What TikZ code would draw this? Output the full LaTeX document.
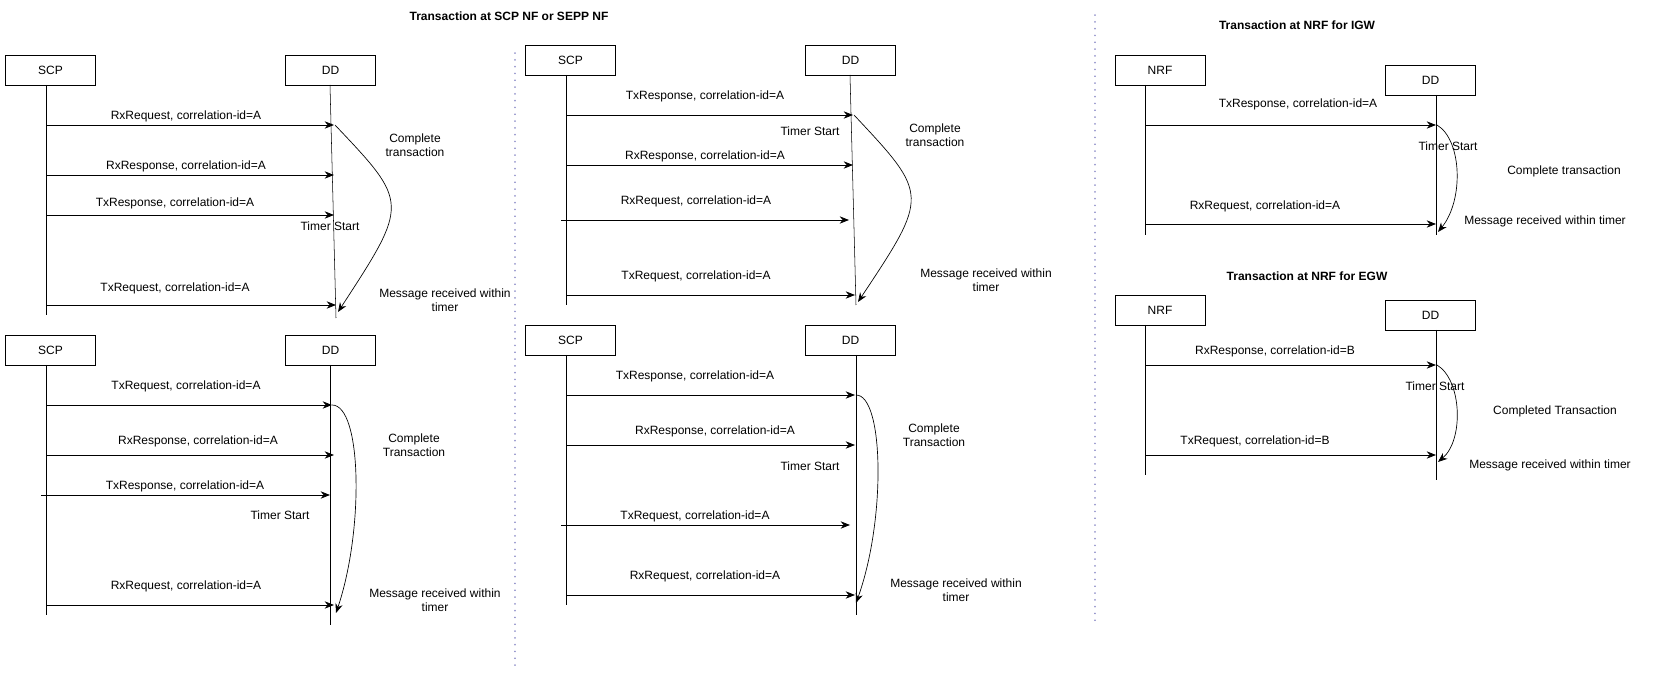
\documentclass[tikz,border=0pt]{standalone}
\usepackage{fontspec}
\setmainfont{Liberation Sans}
\usetikzlibrary{arrows.meta}

\begin{document}
\begin{tikzpicture}[x=0.75pt, y=-0.75pt,
    every node/.style={font=\fontsize{9}{10.5}\selectfont, align=center},
    box/.style={draw, minimum width=67.5pt, minimum height=22.5pt, inner sep=0pt},
    title/.style={font=\fontsize{9}{10.5}\selectfont\bfseries},
    msg/.style={-{Stealth[length=7pt,width=5.5pt]}, line width=0.6pt},
    loop/.style={-{Stealth[length=7pt,width=5.5pt]}, line width=0.5pt},
    sep/.style={draw=blue!35!gray!60, line width=1.3pt, dash pattern=on 0.1pt off 5pt, line cap=round}]
    \useasboundingbox (0,0) rectangle (1661,673);

    % separators and titles
    \coordinate (s1t) at (515,53);   \coordinate (s1b) at (515,666);
    \coordinate (s2t) at (1095,15);  \coordinate (s2b) at (1095,625);
    \draw[sep] (s1t) -- (s1b);
    \draw[sep] (s2t) -- (s2b);
    \node[title] (tscp) at (509,16) {Transaction at SCP NF or SEPP NF};
    \node[title] (tigw) at (1297,25) {Transaction at NRF for IGW};
    \node[title] (tegw) at (1307,276) {Transaction at NRF for EGW};

    % panel A
    \node[box] (scpA) at (50.5,70) {SCP};
    \node[box] (ddA) at (330.5,70) {DD};
    \coordinate (scpAt) at (46,85);  \coordinate (scpAb) at (46,315);
    \coordinate (ddAt) at (330,85);  \coordinate (ddAb) at (336,318);
    \draw (scpAt) -- (scpAb);
    \draw (ddAt) -- (ddAb);
    \foreach \y/\sx/\ex/\lx/\ly/\t [count=\i] in {125/46/334/186/116/{RxRequest, correlation-id=A},
        175/46/334/186/166/{RxResponse, correlation-id=A}, 215/46/334/175/203/{TxResponse, correlation-id=A},
        305/46/336/175/288/{TxRequest, correlation-id=A}} {
      \coordinate (a\i s) at (\sx,\y); \coordinate (a\i e) at (\ex,\y);
      \draw[msg] (a\i s) -- (a\i e);
      \node (a\i l) at (\lx,\ly) {\t};
    }
    \coordinate (aCs) at (335,125); \coordinate (aCe) at (338,312);
    \draw[loop] (aCs) .. controls (409,203) and (409,203) .. (aCe);
    \node (aTs) at (330,226) {Timer Start};
    \node (aCt) at (415,145) {Complete\\transaction};
    \node (aMr) at (445,300) {Message received within\\timer};

    % panel B
    \node[box] (scpB) at (50.5,350) {SCP};
    \node[box] (ddB) at (330.5,350) {DD};
    \coordinate (scpBt) at (46,365);  \coordinate (scpBb) at (46,615);
    \coordinate (ddBt) at (330,365);  \coordinate (ddBb) at (330,625);
    \draw (scpBt) -- (scpBb);
    \draw (ddBt) -- (ddBb);
    \foreach \y/\sx/\ex/\lx/\ly/\t [count=\i] in {405/46/332/186/386/{TxRequest, correlation-id=A},
        455/46/334/198/441/{RxResponse, correlation-id=A}, 495/41/330/185/486/{TxResponse, correlation-id=A},
        605/46/334/186/586/{RxRequest, correlation-id=A}} {
      \coordinate (b\i s) at (\sx,\y); \coordinate (b\i e) at (\ex,\y);
      \draw[msg] (b\i s) -- (b\i e);
      \node (b\i l) at (\lx,\ly) {\t};
    }
    \coordinate (bCs) at (332,405); \coordinate (bCe) at (336,613);
    \draw[loop] (bCs) .. controls (362,405) and (364,530) .. (bCe);
    \node (bTs) at (280,515) {Timer Start};
    \node (bCt) at (414,445) {Complete\\Transaction};
    \node (bMr) at (435,600) {Message received within\\timer};

    % panel C
    \node[box] (scpC) at (570.5,60.5) {SCP};
    \node[box] (ddC) at (850.5,60.5) {DD};
    \coordinate (scpCt) at (566,75);  \coordinate (scpCb) at (566,305);
    \coordinate (ddCt) at (850,75);   \coordinate (ddCb) at (856,305);
    \draw (scpCt) -- (scpCb);
    \draw (ddCt) -- (ddCb);
    \foreach \y/\sx/\ex/\lx/\ly/\t [count=\i] in {115/566/853/705/96/{TxResponse, correlation-id=A},
        165/566/853/705/156/{RxResponse, correlation-id=A}, 220/561/849/696/201/{RxRequest, correlation-id=A},
        295/566/855/696/276/{TxRequest, correlation-id=A}} {
      \coordinate (c\i s) at (\sx,\y); \coordinate (c\i e) at (\ex,\y);
      \draw[msg] (c\i s) -- (c\i e);
      \node (c\i l) at (\lx,\ly) {\t};
    }
    \coordinate (cCs) at (854,115); \coordinate (cCe) at (858,302);
    \draw[loop] (cCs) .. controls (929,195) and (929,195) .. (cCe);
    \node (cTs) at (810,131) {Timer Start};
    \node (cCt) at (935,135) {Complete\\transaction};
    \node (cMr) at (986,280) {Message received within\\timer};

    % panel D
    \node[box] (scpD) at (570.5,340) {SCP};
    \node[box] (ddD) at (850.5,340) {DD};
    \coordinate (scpDt) at (566,355);  \coordinate (scpDb) at (566,605);
    \coordinate (ddDt) at (856,355);   \coordinate (ddDb) at (856,615);
    \draw (scpDt) -- (scpDb);
    \draw (ddDt) -- (ddDb);
    \foreach \y/\sx/\ex/\lx/\ly/\t [count=\i] in {395/566/855/695/376/{TxResponse, correlation-id=A},
        445/566/855/715/431/{RxResponse, correlation-id=A}, 525/561/850/695/516/{TxRequest, correlation-id=A},
        595/566/855/705/576/{RxRequest, correlation-id=A}} {
      \coordinate (d\i s) at (\sx,\y); \coordinate (d\i e) at (\ex,\y);
      \draw[msg] (d\i s) -- (d\i e);
      \node (d\i l) at (\lx,\ly) {\t};
    }
    \coordinate (dCs) at (856,395); \coordinate (dCe) at (856,603);
    \draw[loop] (dCs) .. controls (884,395) and (886,520) .. (dCe);
    \node (dTs) at (810,466) {Timer Start};
    \node (dCt) at (934,435) {Complete\\Transaction};
    \node (dMr) at (956,590) {Message received within\\timer};

    % panel E
    \node[box] (nrfE) at (1160,70.5) {NRF};
    \node[box] (ddE) at (1430.5,80.5) {DD};
    \coordinate (nrfEt) at (1145,85);  \coordinate (nrfEb) at (1145,235);
    \coordinate (ddEt) at (1436,95);   \coordinate (ddEb) at (1436,235);
    \draw (nrfEt) -- (nrfEb);
    \draw (ddEt) -- (ddEb);
    \foreach \y/\lx/\ly/\t [count=\i] in {125/1298/104/{TxResponse, correlation-id=A},
        224/1265/206/{RxRequest, correlation-id=A}} {
      \coordinate (e\i s) at (1145,\y); \coordinate (e\i e) at (1436,\y);
      \draw[msg] (e\i s) -- (e\i e);
      \node (e\i l) at (\lx,\ly) {\t};
    }
    \coordinate (eCs) at (1437,125); \coordinate (eCe) at (1438,232);
    \draw[loop] (eCs) .. controls (1462,140) and (1464,200) .. (eCe);
    \node (eTs) at (1448,146) {Timer Start};
    \node (eCt) at (1564,171) {Complete transaction};
    \node (eMr) at (1545,221) {Message received within timer};

    % panel F
    \node[box] (nrfF) at (1160,310.5) {NRF};
    \node[box] (ddF) at (1430.5,315.5) {DD};
    \coordinate (nrfFt) at (1145,325);  \coordinate (nrfFb) at (1145,475);
    \coordinate (ddFt) at (1436,330);   \coordinate (ddFb) at (1436,480);
    \draw (nrfFt) -- (nrfFb);
    \draw (ddFt) -- (ddFb);
    \foreach \y/\lx/\ly/\t [count=\i] in {365/1275/351/{RxResponse, correlation-id=B},
        455/1255/441/{TxRequest, correlation-id=B}} {
      \coordinate (f\i s) at (1145,\y); \coordinate (f\i e) at (1436,\y);
      \draw[msg] (f\i s) -- (f\i e);
      \node (f\i l) at (\lx,\ly) {\t};
    }
    \coordinate (fCs) at (1437,365); \coordinate (fCe) at (1438,462);
    \draw[loop] (fCs) .. controls (1462,380) and (1464,440) .. (fCe);
    \node (fTs) at (1435,386) {Timer Start};
    \node (fCt) at (1555,411) {Completed Transaction};
    \node (fMr) at (1550,465) {Message received within timer};
\end{tikzpicture}
\end{document}
